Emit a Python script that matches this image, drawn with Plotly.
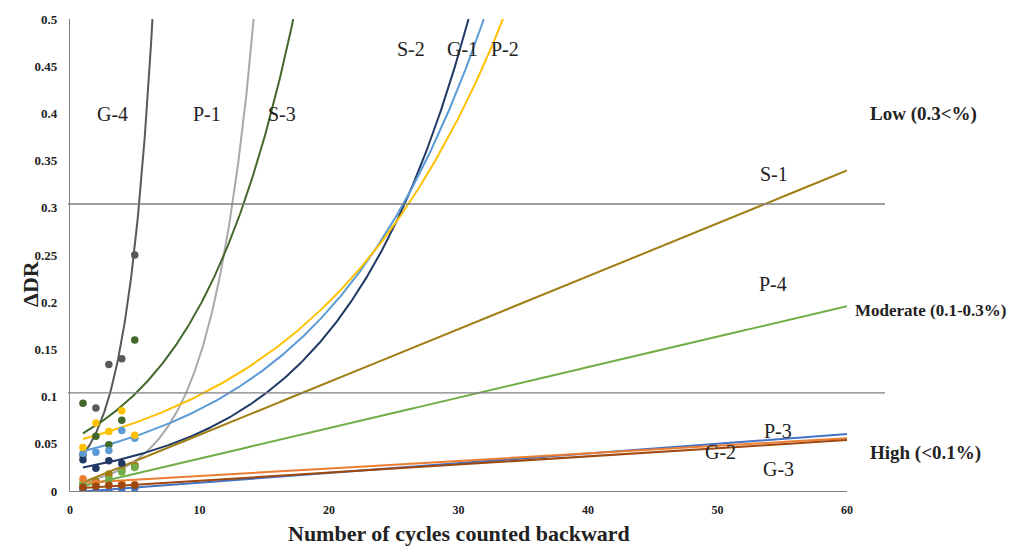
import numpy as np
import plotly.graph_objects as go

# ---------------- data ----------------
series_names = ["G-4", "P-1", "S-3", "S-2", "G-1", "P-2", "S-1", "P-4", "P-3", "G-2", "G-3"]
series_colors = ["#595959", "#a9a9a9", "#43682b", "#203864", "#5b9bd5", "#ffc000",
                 "#a07d10", "#70ad47", "#4472c4", "#ed7d31", "#9e480e"]
trend_type = ["exp", "exp", "exp", "exp", "exp", "exp", "lin", "lin", "lin", "lin", "lin"]
# exp: y = a*exp(b*x) ; lin: y = b*x + a  (trendline coefficients)
trend_a = [0.0235, 0.00706, 0.0536, 0.0226, 0.0388, 0.0514, 0.0035, 0.0020, -0.0015, 0.0079, 0.0023]
trend_b = [0.480, 0.300, 0.1295, 0.1006, 0.0800, 0.0680, 0.0056, 0.00323, 0.00103, 0.00080, 0.00086]

cycles = [1, 2, 3, 4, 5]
points = {
    "G-4": [0.038, 0.088, 0.134, 0.140, 0.250],
    "P-1": [0.008, 0.010, 0.015, 0.022, 0.028],
    "S-3": [0.093, 0.058, 0.049, 0.075, 0.160],
    "S-2": [0.033, 0.024, 0.032, 0.029, 0.026],
    "G-1": [0.040, 0.041, 0.043, 0.064, 0.056],
    "P-2": [0.046, 0.072, 0.063, 0.085, 0.059],
    "S-1": [0.004, 0.010, 0.018, 0.022, 0.027],
    "P-4": [0.008, 0.006, 0.012, 0.020, 0.025],
    "P-3": [0.001, 0.000, 0.000, 0.002, 0.003],
    "G-2": [0.013, 0.008, 0.006, 0.008, 0.007],
    "G-3": [0.004, 0.005, 0.006, 0.006, 0.006],
}

# label positions (data coords)
label_x = [3.3, 10.6, 16.4, 26.3, 30.3, 33.6, 54.4, 54.3, 54.7, 50.2, 54.7]
label_y = [0.399, 0.399, 0.399, 0.468, 0.468, 0.468, 0.336, 0.219, 0.064, 0.041, 0.023]

threshold_values = [0.304, 0.104]
zone_labels = ["Low (0.3<%)", "Moderate (0.1-0.3%)", "High (<0.1%)"]
zone_label_y = [0.399, 0.191, 0.040]
zone_label_x_px = [923, 931, 925]
zone_label_size = [19, 17, 19]

x_ticks = [0, 10, 20, 30, 40, 50, 60]
y_ticks = [0, 0.05, 0.1, 0.15, 0.2, 0.25, 0.3, 0.35, 0.4, 0.45, 0.5]
y_tick_text = ["0", "0.05", "0.1", "0.15", "0.2", "0.25", "0.3", "0.35", "0.4", "0.45", "0.5"]

# ---------------- figure ----------------
W, H = 1010, 547
ML, MR, MT, MB = 70, 163, 17, 56
X_RANGE = [0, 60]
Y_RANGE = [0, 0.5]
plot_w = W - ML - MR
plot_h = H - MT - MB

fig = go.Figure()

xg = np.linspace(1, 60, 1181)
for name, col, tt, a, b in zip(series_names, series_colors, trend_type, trend_a, trend_b):
    if tt == "exp":
        yg = a * np.exp(b * xg)
    else:
        yg = a + b * xg
    keep = np.concatenate([[True], yg[:-1] <= 0.6])
    fig.add_trace(go.Scatter(x=xg[keep], y=yg[keep], mode="lines",
                             line=dict(color=col, width=2), hoverinfo="skip",
                             showlegend=False))

for name, col in zip(series_names, series_colors):
    fig.add_trace(go.Scatter(x=cycles, y=points[name], mode="markers",
                             marker=dict(color=col, size=7.5), showlegend=False,
                             name=name))

serif = "Liberation Serif"
annotations = []
for name, lx, ly in zip(series_names, label_x, label_y):
    annotations.append(dict(x=lx, y=ly, xref="x", yref="y", text=name, showarrow=False,
                            font=dict(family=serif, size=20, color="#222222")))

for txt, zy, zpx, zs in zip(zone_labels, zone_label_y, zone_label_x_px, zone_label_size):
    annotations.append(dict(x=(zpx - ML) / plot_w, y=zy, xref="paper", yref="y", text=txt,
                            showarrow=False, xanchor="center",
                            font=dict(family=serif, size=zs, color="#222222", weight="bold")))

annotations.append(dict(x=0.5, y=-(519 - (MT + plot_h)) / plot_h, xref="paper", yref="paper",
                        text="Number of cycles counted backward", showarrow=False,
                        xanchor="center", yanchor="top",
                        font=dict(family=serif, size=22, color="#222222", weight="bold")))
annotations.append(dict(x=-(ML - 31) / plot_w, y=((MT + plot_h) - 283) / plot_h,
                        xref="paper", yref="paper",
                        text="ΔDR", showarrow=False, textangle=-90,
                        xanchor="center", yanchor="middle",
                        font=dict(family=serif, size=22, color="#222222", weight="bold")))

shapes = []
for tv in threshold_values:
    yp = (tv - Y_RANGE[0]) / (Y_RANGE[1] - Y_RANGE[0])
    shapes.append(dict(type="line", xref="paper", yref="paper",
                       x0=-2 / plot_w, x1=(885 - ML) / plot_w, y0=yp, y1=yp,
                       line=dict(color="#808080", width=1.3)))

fig.update_layout(
    width=W, height=H,
    margin=dict(l=ML, r=MR, t=MT, b=MB),
    paper_bgcolor="white", plot_bgcolor="white",
    showlegend=False,
    annotations=annotations,
    shapes=shapes,
    xaxis=dict(range=X_RANGE, tickvals=x_ticks, showgrid=False, zeroline=False,
               showline=True, linecolor="#808080", linewidth=1.3, ticks="",
               ticklabelstandoff=7,
               tickfont=dict(family=serif, size=12, color="#222222", weight="bold")),
    yaxis=dict(range=Y_RANGE, tickvals=y_ticks, ticktext=y_tick_text, showgrid=False,
               zeroline=False, showline=True, linecolor="#808080", linewidth=1.3, ticks="",
               ticklabelstandoff=9,
               tickfont=dict(family=serif, size=13, color="#222222", weight="bold")),
)

fig.write_html("out.html")
